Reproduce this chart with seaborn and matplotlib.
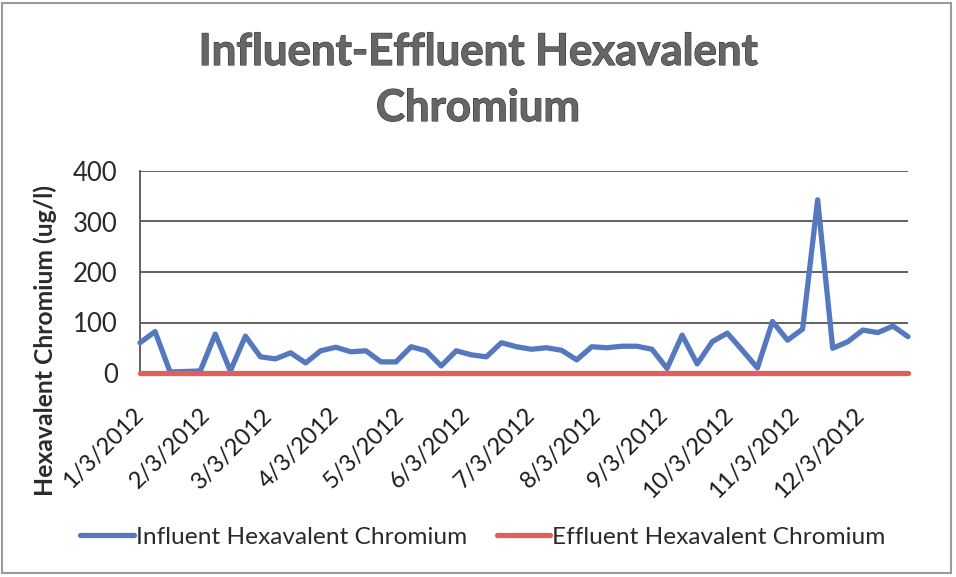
import matplotlib
matplotlib.use("Agg")
import matplotlib.pyplot as plt
import matplotlib.patheffects as pe
import seaborn as sns
import pandas as pd
from matplotlib.patches import Rectangle
from matplotlib.lines import Line2D

sns.set_theme(style="white")
plt.rcParams['font.family'] = ['Lato', 'DejaVu Sans']

# ---- data ----
start_date = "2012-01-03"
n_weeks = 52
influent = [60, 82, 2, 3, 4, 77, 4, 73, 32, 28, 40, 20, 44, 51, 42, 44, 22, 22,
            52, 44, 14, 44, 36, 32, 60, 52, 47, 50, 45, 26, 52, 50, 53, 53, 47, 9,
            75, 18, 62, 79, 45, 10, 102, 65, 87, 343, 49, 62, 85, 80, 93, 72]
effluent = [0, 0, 0, 0, 0, 0, 0, 0, 0, 0, 0, 0, 0, 0, 0, 0, 0, 0,
            0, 0, 0, 0, 0, 0, 0, 0, 0, 0, 0, 0, 0, 0, 0, 0, 0, 0,
            0, 0, 0, 0, 0, 0, 0, 0, 0, 0, 0, 0, 0, 0, 0, 0]
tick_labels = ["1/3/2012", "2/3/2012", "3/3/2012", "4/3/2012", "5/3/2012", "6/3/2012",
               "7/3/2012", "8/3/2012", "9/3/2012", "10/3/2012", "11/3/2012", "12/3/2012"]
y_ticks = [0, 100, 200, 300, 400]
series_names = ["Influent Hexavalent Chromium", "Effluent Hexavalent Chromium"]

dates = pd.date_range(start_date, periods=n_weeks, freq="7D")
df = pd.DataFrame({"date": dates, series_names[0]: influent, series_names[1]: effluent})
long = df.melt(id_vars="date", var_name="series", value_name="value")

W, H = 956, 577
fig = plt.figure(figsize=(W / 100, H / 100), dpi=100)
fig.patch.set_facecolor("white")
ax = fig.add_axes([140 / W, 1 - 373 / H, (908 - 140) / W, (373 - 171) / H])

colors = {series_names[0]: "#5578BE", series_names[1]: "#E0605C"}
sns.lineplot(data=long, x="date", y="value", hue="series", palette=colors,
             hue_order=series_names, linewidth=3.8, ax=ax, legend=False)
for i, l in enumerate(ax.get_lines()):
    l.set_solid_capstyle("round")
    l.set_solid_joinstyle("round")
    l.set_clip_on(False)
    l.set_zorder(3 + i)

ax.set_ylim(0, 400)
ax.set_yticks(y_ticks)
ax.set_xlim(dates[0], dates[-1])
tick_dates = pd.to_datetime(tick_labels, format="%m/%d/%Y")
ax.set_xticks(tick_dates)
ax.set_xticklabels(tick_labels, rotation=45, ha="right", va="center",
                   rotation_mode="anchor", fontsize=17, color="#1a1a1a")
ax.tick_params(axis="y", labelsize=18.5, colors="#2a2a2a", length=0, pad=16)
ax.tick_params(axis="x", length=0, pad=28)
ax.grid(axis="y", color="#555555", linewidth=1.3)
ax.grid(axis="x", visible=False)
for s in ["top", "right", "bottom"]:
    ax.spines[s].set_visible(False)
ax.spines["left"].set_color("#555555")
ax.spines["left"].set_linewidth(1.3)
ax.set_xlabel("")
ax.set_ylabel("")

fig.text(45 / W, 1 - 340 / H, "Hexavalent Chromium (ug/l)", rotation=90,
         ha="center", va="center", fontsize=17.8, fontweight="bold", color="#2a2a2a")

title_kw = dict(ha="center", va="center", fontsize=31.5, fontweight="bold", color="#666666",
                path_effects=[pe.withStroke(linewidth=0.8, foreground="#333333")])
fig.text(478 / W, 1 - 52 / H, "Influent-Effluent Hexavalent", **title_kw)
fig.text(478 / W, 1 - 108 / H, "Chromium", **title_kw)

handles = [Line2D([], [], color=colors[series_names[0]], linewidth=3.8),
           Line2D([], [], color=colors[series_names[1]], linewidth=3.8)]
fig.legend(handles, series_names, loc="center", bbox_to_anchor=(483 / W, 1 - 537 / H),
           ncol=2, frameon=False, fontsize=17.6, handlelength=2.2, handletextpad=0.08,
           columnspacing=1.2, labelcolor="#2a2a2a")

fig.add_artist(Rectangle((2 / W, 4 / H), 949 / W, 570 / H, transform=fig.transFigure,
                         fill=False, edgecolor="#9a9a9a", linewidth=1.5))

fig.savefig("out.png", dpi=100)
